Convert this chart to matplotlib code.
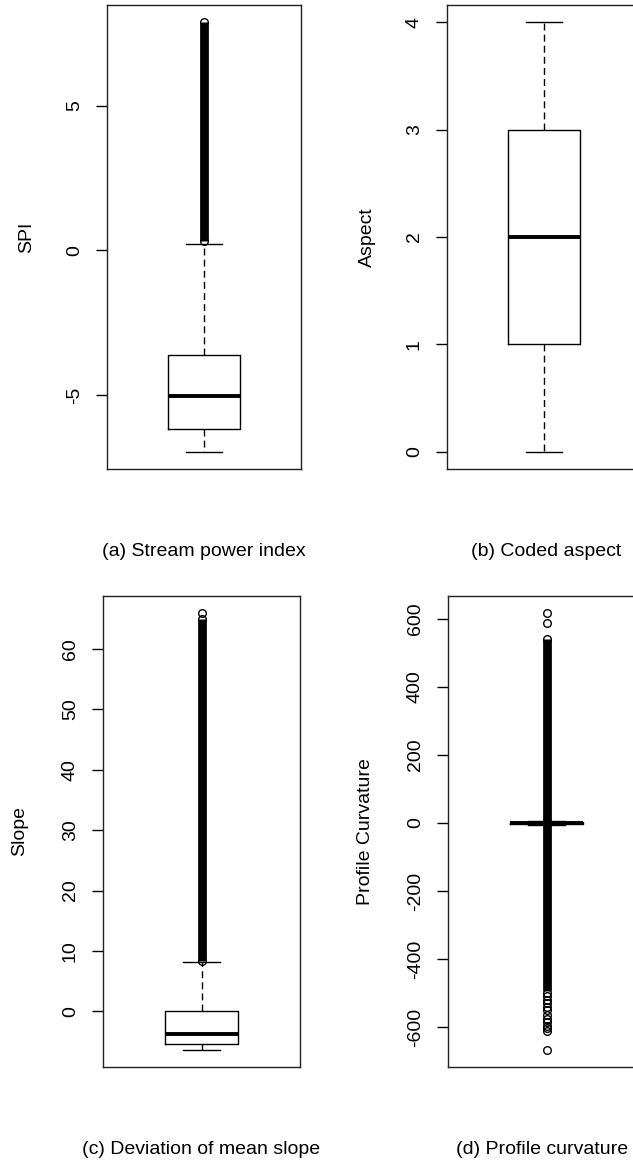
import matplotlib
matplotlib.use('Agg')
import matplotlib.pyplot as plt

plt.rcParams['font.family'] = ['Liberation Sans', 'DejaVu Sans']
plt.rcParams['font.size'] = 14
plt.rcParams['axes.unicode_minus'] = False

# box statistics read per variable
spi_stats = dict(whislo=-6.97, q1=-6.17, med=-5.03, q3=-3.62, whishi=0.2)
spi_band = (0.3, 7.88)           # run of overlapping outliers
spi_fliers = [0.3, 7.88]
spi_ticks = [-5, 0, 5]

aspect_stats = dict(whislo=0, q1=1, med=2, q3=3, whishi=4)
aspect_band = None
aspect_fliers = []
aspect_ticks = [0, 1, 2, 3, 4]

slope_stats = dict(whislo=-6.3, q1=-5.4, med=-3.8, q3=0.0, whishi=8.2)
slope_band = (8.4, 65.0)
slope_fliers = [8.4, 65.0, 65.85]
slope_ticks = [0, 10, 20, 30, 40, 50, 60]

prof_stats = dict(whislo=-6, q1=-2, med=0, q3=2, whishi=6)
prof_band = (-495, 540)
prof_fliers = [-666, -612, -603, -597, -584, -575, -563, -551, -542,
               -530, -521, -509, -500, 540, 589, 616]
prof_ticks = [-600, -400, -200, 0, 200, 400, 600]

W, H = 633, 1164


def px_axes(fig, left, top, width, height):
    return fig.add_axes([left / W, 1 - (top + height) / H, width / W, height / H])


def draw_box(ax, stats, band, fliers, ticks, ylabel, label_x):
    vals = [stats['whislo'], stats['whishi']] + list(fliers)
    if band is not None:
        vals += list(band)
    lo, hi = min(vals), max(vals)
    pad = 0.04 * (hi - lo)

    st = dict(stats)
    st['fliers'] = fliers
    ax.bxp([st], positions=[1], widths=0.37, capwidths=0.19,
           boxprops=dict(color='black', lw=1.0),
           medianprops=dict(color='black', lw=2.8, solid_capstyle='butt'),
           whiskerprops=dict(color='black', lw=1.0, linestyle=(0, (5, 3))),
           capprops=dict(color='black', lw=1.0),
           flierprops=dict(marker='o', markerfacecolor='none',
                           markeredgecolor='black', markersize=5.5,
                           markeredgewidth=1.0))
    if band is not None:
        ax.plot([1, 1], band, color='black', lw=6.3, solid_capstyle='butt',
                zorder=2)

    ax.set_xlim(0.5, 1.5)
    ax.set_ylim(lo - pad, hi + pad)
    ax.set_xticks([])
    ax.set_yticks(ticks)
    ax.tick_params(axis='y', length=8, width=1.0, pad=9.4, labelrotation=90,
                   labelsize=14)
    for lab in ax.get_yticklabels():
        lab.set_va('center')
    for sp in ax.spines.values():
        sp.set_linewidth(1.0)
        sp.set_color('#222222')
    ax.set_ylabel(ylabel, fontsize=14)
    ax.yaxis.set_label_coords(label_x, 0.5)
    ax.yaxis.label.set_va('center')


fig = plt.figure(figsize=(W / 100, H / 100), dpi=100)

ax_a = px_axes(fig, 107, 5, 194, 464)
ax_b = px_axes(fig, 447, 5, 194, 464)
ax_c = px_axes(fig, 103, 596, 197, 471)
ax_d = px_axes(fig, 448, 596, 197, 471)

draw_box(ax_a, spi_stats, spi_band, spi_fliers, spi_ticks, 'SPI', -0.412)
draw_box(ax_b, aspect_stats, aspect_band, aspect_fliers, aspect_ticks,
         'Aspect', -0.412)
draw_box(ax_c, slope_stats, slope_band, slope_fliers, slope_ticks,
         'Slope', -0.421)
draw_box(ax_d, prof_stats, prof_band, prof_fliers, prof_ticks,
         'Profile Curvature', -0.421)

captions = ['(a) Stream power index', '(b) Coded aspect',
            '(c) Deviation of mean slope', '(d) Profile curvature']
cap_pos = [(204, 552), (546, 552), (201, 1150), (542, 1150)]
for txt, (cx, cy) in zip(captions, cap_pos):
    fig.text(cx / W, 1 - cy / H, txt, ha='center', va='center', fontsize=14)

fig.savefig('out.png', dpi=100)
